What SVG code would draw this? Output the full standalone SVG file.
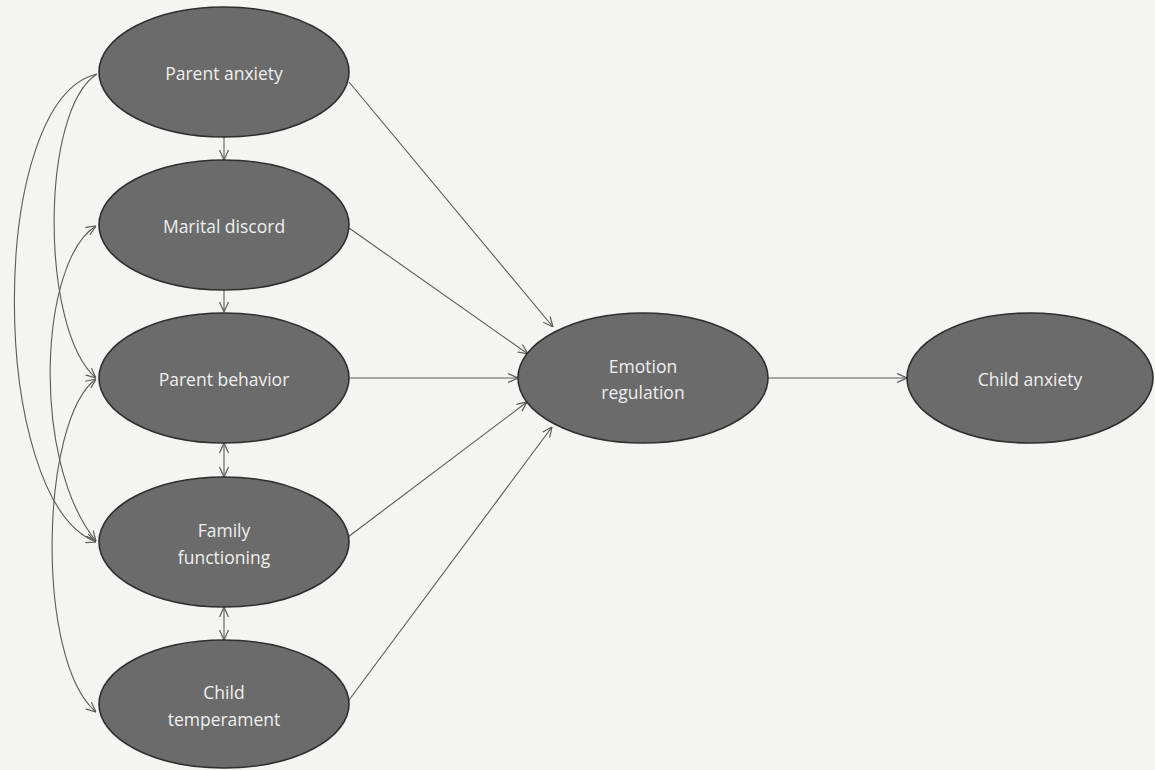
<svg xmlns="http://www.w3.org/2000/svg" width="1155" height="770" viewBox="0 0 1155 770">
<defs>
<style>
.node{fill:#6b6b6b;stroke:#2e2e2e;stroke-width:1.6}
.lbl{font-family:"Open Sans","Noto Sans",sans-serif;font-size:17.5px;fill:#efefef;text-anchor:middle}
.edge{fill:none;stroke:#5a5a5a;stroke-width:1.1}
</style>
<marker id="ah" viewBox="0 0 10 10" refX="10" refY="5" markerWidth="10" markerHeight="10" markerUnits="userSpaceOnUse" orient="auto-start-reverse">
<path d="M0,0.5 L10,5 L0,9.5" fill="none" stroke="#5a5a5a" stroke-width="1.2"/>
</marker>
</defs>
<rect width="1155" height="770" fill="#f4f4f2"/>
<g id="connectors">
<path class="edge" d="M224,137 L224,160" marker-end="url(#ah)"/>
<path class="edge" d="M224,290 L224,312" marker-end="url(#ah)"/>
<path class="edge" d="M224,443 L224,477" marker-start="url(#ah)" marker-end="url(#ah)"/>
<path class="edge" d="M224,607 L224,640" marker-start="url(#ah)" marker-end="url(#ah)"/>
<path class="edge" d="M349,82 L553,327" marker-end="url(#ah)"/>
<path class="edge" d="M349,228 L528,354" marker-end="url(#ah)"/>
<path class="edge" d="M350,378 L518,378" marker-end="url(#ah)"/>
<path class="edge" d="M348,537 L527,402" marker-end="url(#ah)"/>
<path class="edge" d="M349,700 L552,427" marker-end="url(#ah)"/>
<path class="edge" d="M768,378 L907,378" marker-end="url(#ah)"/>
<path class="edge" d="M97,74 C-14,100 -12,500 96,542" marker-end="url(#ah)"/>
<path class="edge" d="M97,74 C40,110 40,330 96,378" marker-end="url(#ah)"/>
<path class="edge" d="M96,226 C40,260 30,460 96,541" marker-start="url(#ah)" marker-end="url(#ah)"/>
<path class="edge" d="M96,379 C40,420 35,660 96,712" marker-start="url(#ah)" marker-end="url(#ah)"/>
</g>
<g id="parent-anxiety">
<ellipse class="node" cx="224" cy="72" rx="125" ry="65"/>
<text class="lbl" x="224" y="80">Parent anxiety</text>
</g>
<g id="marital-discord">
<ellipse class="node" cx="224" cy="225" rx="125" ry="65"/>
<text class="lbl" x="224" y="233">Marital discord</text>
</g>
<g id="parent-behavior">
<ellipse class="node" cx="224" cy="378" rx="125" ry="65"/>
<text class="lbl" x="224" y="386">Parent behavior</text>
</g>
<g id="family-functioning">
<ellipse class="node" cx="224" cy="542" rx="125" ry="65"/>
<text class="lbl" x="224" y="537">Family</text>
<text class="lbl" x="224" y="564">functioning</text>
</g>
<g id="child-temperament">
<ellipse class="node" cx="224" cy="704" rx="125" ry="64"/>
<text class="lbl" x="224" y="699">Child</text>
<text class="lbl" x="224" y="726">temperament</text>
</g>
<g id="emotion-regulation">
<ellipse class="node" cx="643" cy="378" rx="125" ry="65"/>
<text class="lbl" x="643" y="373">Emotion</text>
<text class="lbl" x="643" y="399">regulation</text>
</g>
<g id="child-anxiety">
<ellipse class="node" cx="1030" cy="378" rx="123" ry="65"/>
<text class="lbl" x="1030" y="386">Child anxiety</text>
</g>
</svg>
